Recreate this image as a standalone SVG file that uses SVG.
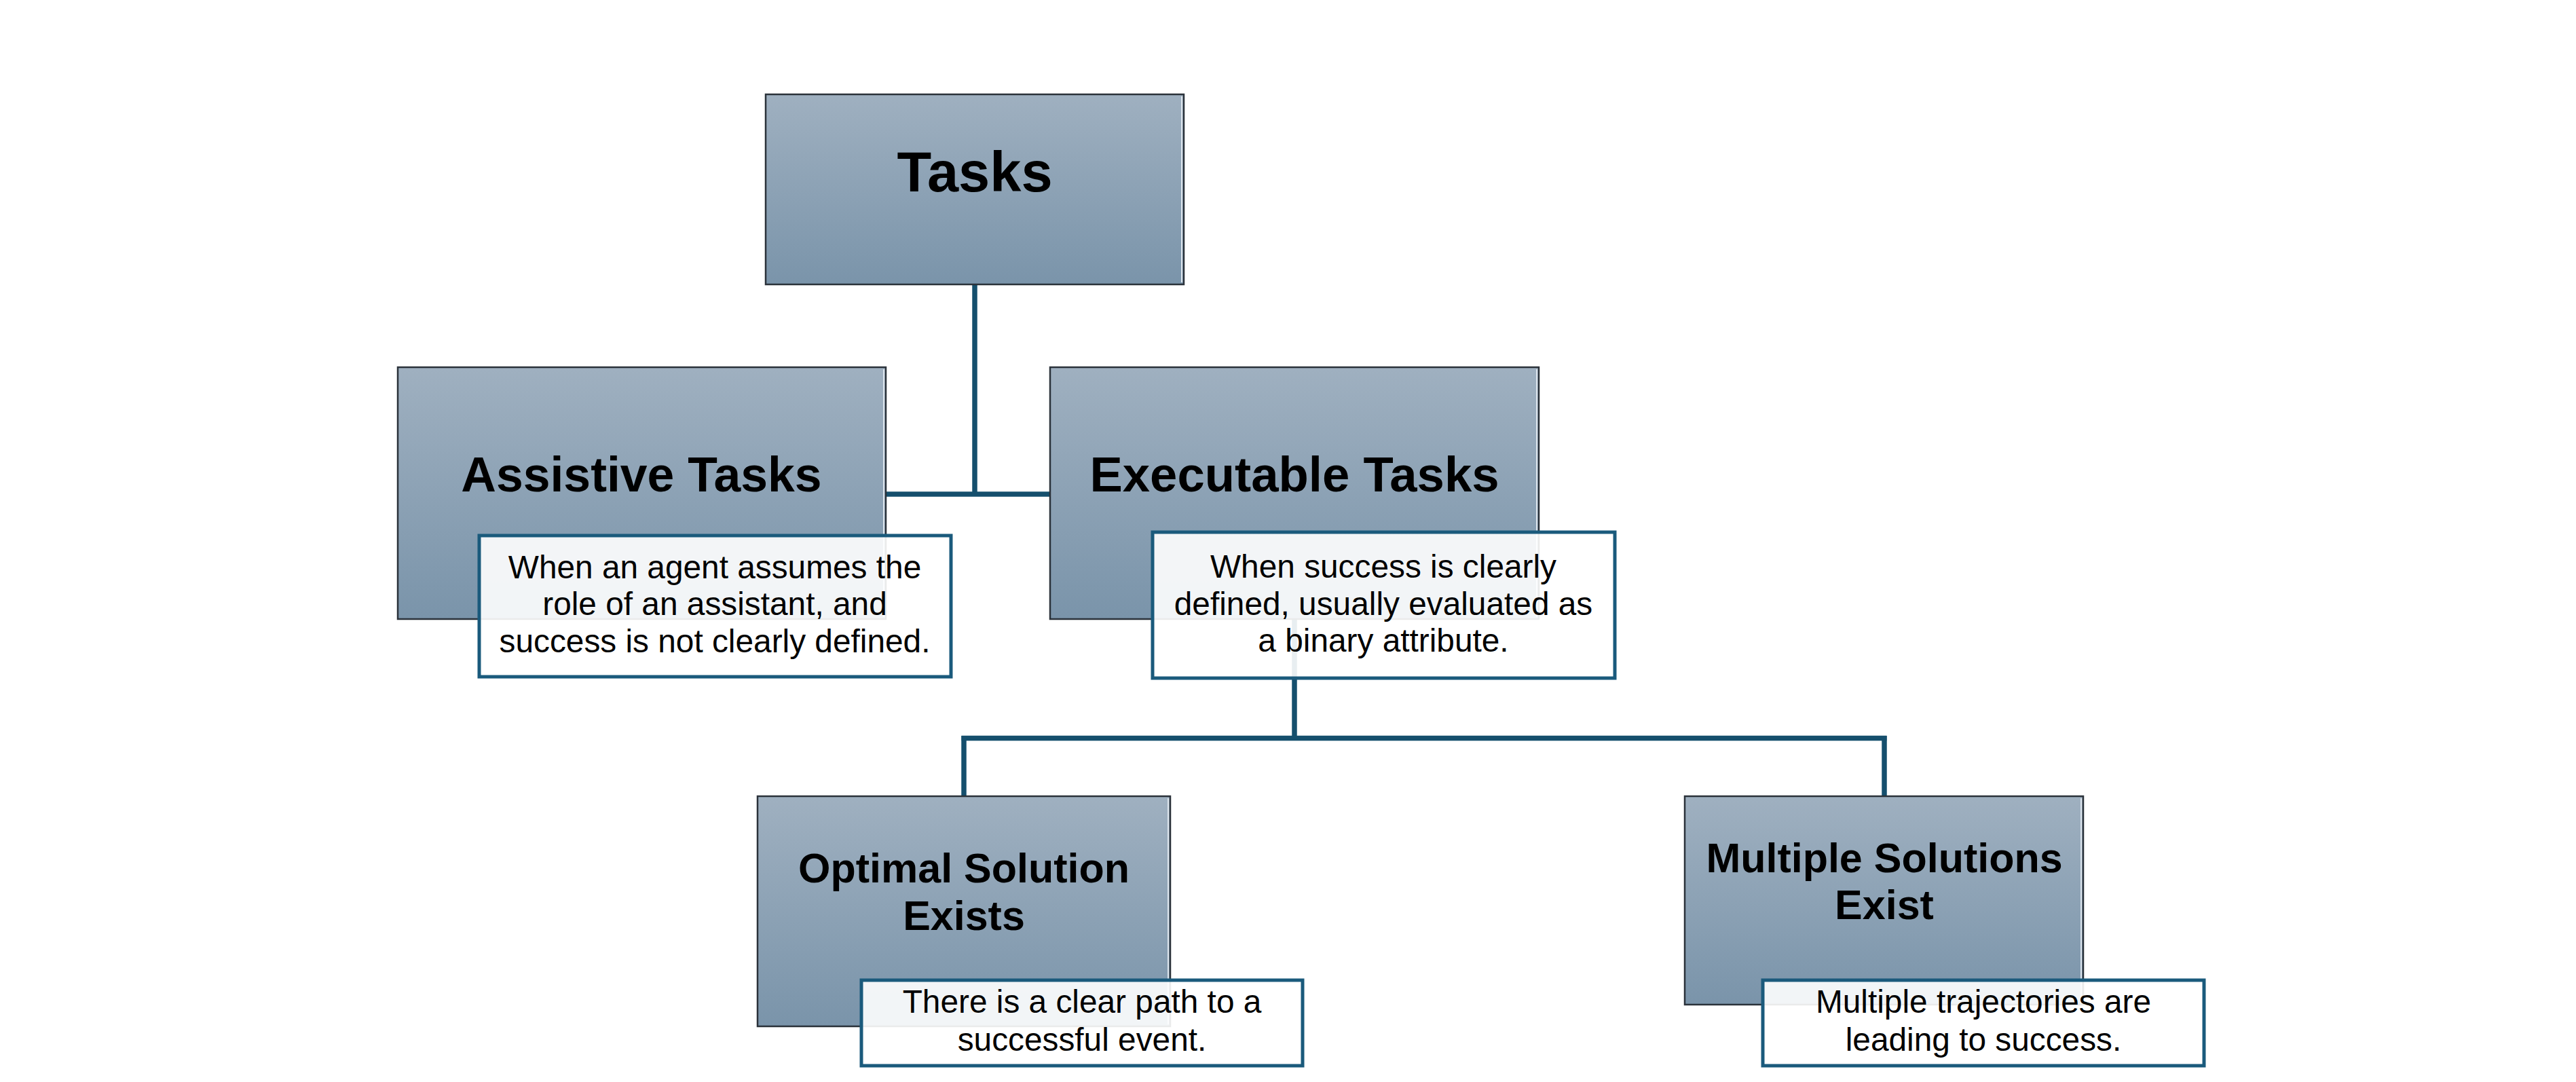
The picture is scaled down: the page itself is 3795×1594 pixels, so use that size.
<svg xmlns="http://www.w3.org/2000/svg" width="3795" height="1594" viewBox="0 0 3795 1594">
  <defs>
    <linearGradient id="boxGrad" x1="0" y1="0" x2="0" y2="1">
      <stop offset="0" stop-color="#9fb0c0"/>
      <stop offset="1" stop-color="#7a94aa"/>
    </linearGradient>
    <style>
      .box { fill: url(#boxGrad); stroke: #2b323a; stroke-width: 2.5; }
      .hi { stroke: #dde5ed; stroke-width: 2; fill: none; }
      .desc { fill: #ffffff; fill-opacity: 0.9; stroke: #1a5a7c; stroke-width: 5; }
      .conn { fill: none; stroke: #154f6d; stroke-width: 7.5; stroke-linecap: butt; }
      .title { font-family: "Liberation Sans", Arial, sans-serif; font-weight: bold; fill: #000000; text-anchor: middle; }
      .body { font-family: "Liberation Sans", Arial, sans-serif; font-size: 47.8px; fill: #000000; text-anchor: middle; }
    </style>
  </defs>
  <rect x="0" y="0" width="3795" height="1594" fill="#ffffff"/>

  <g id="connectors">
    <path class="conn" d="M1436 419 V728"/>
    <path class="conn" d="M1305 728 H1547"/>
    <path class="conn" d="M1907 912 V1087.5"/>
    <path class="conn" d="M1416.5 1087.5 H2779.5"/>
    <path class="conn" d="M1420 1084 V1173"/>
    <path class="conn" d="M2776 1084 V1173"/>
  </g>

  <g id="node-tasks">
    <rect class="box" x="1128" y="139" width="616" height="280"/>
    <line class="hi" x1="1741" y1="142" x2="1741" y2="416"/>
    <text class="title" x="1436" y="282" font-size="83">Tasks</text>
  </g>

  <g id="node-assistive">
    <rect class="box" x="586" y="541" width="719" height="371"/>
    <line class="hi" x1="1302" y1="544" x2="1302" y2="909"/>
    <text class="title" x="945" y="724" font-size="71.5">Assistive Tasks</text>
  </g>

  <g id="node-executable">
    <rect class="box" x="1547" y="541" width="720" height="371"/>
    <line class="hi" x1="2264" y1="544" x2="2264" y2="909"/>
    <text class="title" x="1907" y="724" font-size="72.5">Executable Tasks</text>
  </g>

  <g id="node-optimal">
    <rect class="box" x="1116" y="1173" width="608" height="339"/>
    <line class="hi" x1="1721" y1="1176" x2="1721" y2="1509"/>
    <text class="title" x="1420" y="1300" font-size="61">Optimal Solution</text>
    <text class="title" x="1420" y="1370" font-size="61">Exists</text>
  </g>

  <g id="node-multiple">
    <rect class="box" x="2482" y="1173" width="587" height="307"/>
    <line class="hi" x1="3066" y1="1176" x2="3066" y2="1477"/>
    <text class="title" x="2776" y="1285" font-size="61">Multiple Solutions</text>
    <text class="title" x="2776" y="1354" font-size="61">Exist</text>
  </g>

  <g id="desc-assistive">
    <rect class="desc" x="706" y="789" width="695" height="208"/>
    <text class="body" x="1053" y="852">When an agent assumes the</text>
    <text class="body" x="1053" y="906">role of an assistant, and</text>
    <text class="body" x="1053" y="961">success is not clearly defined.</text>
  </g>

  <g id="desc-executable">
    <rect class="desc" x="1698" y="784" width="681" height="215"/>
    <text class="body" x="2038" y="851">When success is clearly</text>
    <text class="body" x="2038" y="906">defined, usually evaluated as</text>
    <text class="body" x="2038" y="960">a binary attribute.</text>
  </g>

  <g id="desc-optimal">
    <rect class="desc" x="1269" y="1444" width="650" height="126"/>
    <text class="body" x="1594" y="1492">There is a clear path to a</text>
    <text class="body" x="1594" y="1548">successful event.</text>
  </g>

  <g id="desc-multiple">
    <rect class="desc" x="2597" y="1444" width="650" height="126"/>
    <text class="body" x="2922" y="1492">Multiple trajectories are</text>
    <text class="body" x="2922" y="1548">leading to success.</text>
  </g>
</svg>
